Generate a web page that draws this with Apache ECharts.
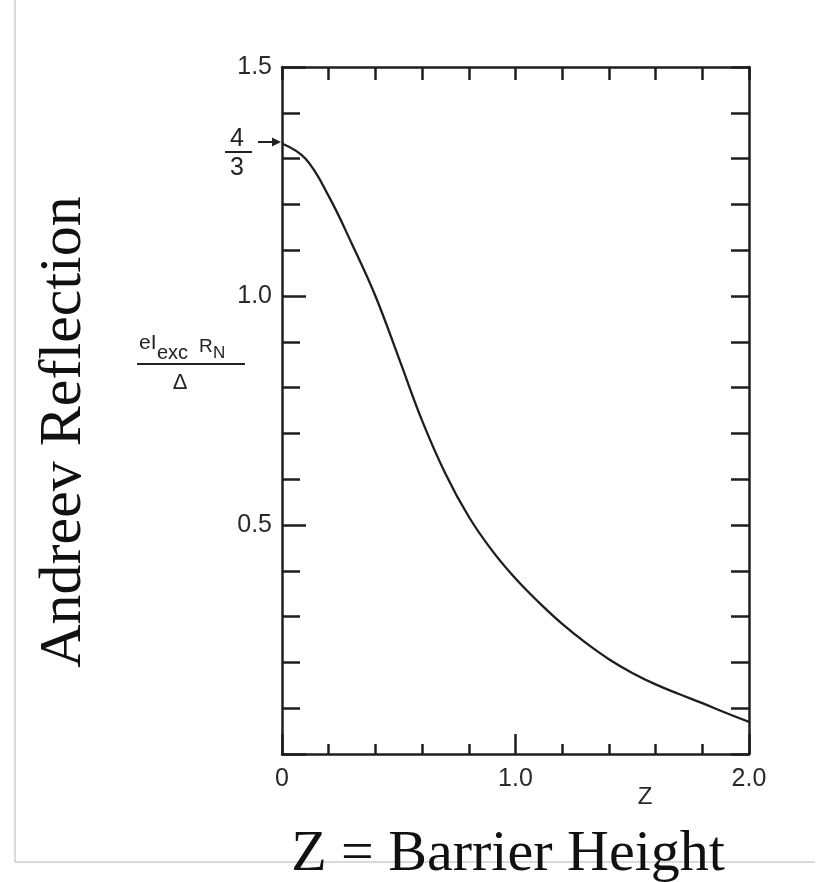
<!DOCTYPE html>
<html><head><meta charset="utf-8">
<script src="https://cdn.jsdelivr.net/npm/echarts@6/dist/echarts.min.js"></script>
<style>html,body{margin:0;padding:0;background:#fff}#c{width:819px;height:882px}</style>
</head><body><div id="c"></div>
<script>
// Barrier strength Z and normalized excess current eI_exc R_N / Δ
const zValues = [0, 0.1, 0.2, 0.3, 0.4, 0.5, 0.6, 0.7, 0.8, 0.9, 1.0, 1.1, 1.2, 1.3, 1.4, 1.5, 1.6, 1.7, 1.8, 1.9, 2.0];
const excessCurrent = [1.333, 1.300, 1.218, 1.113, 1.000, 0.865, 0.728, 0.612, 0.518, 0.444, 0.383, 0.331, 0.284, 0.243, 0.207, 0.177, 0.152, 0.131, 0.111, 0.090, 0.070];
const yTickLabels = ['0.5', '1.0', '1.5'];
const xTickLabels = ['0', '1.0', '2.0'];

const chart = echarts.init(document.getElementById('c'));
const black = '#1e1e1e';
const tickFont = 'Liberation Sans, Arial, sans-serif';
const serif = 'Liberation Serif, Times New Roman, serif';

const seriesData = zValues.map((z, i) => [z, excessCurrent[i]]);

chart.setOption({
  backgroundColor: '#fff',
  animation: false,
  grid: { left: 282, right: 70, top: 67, bottom: 128, containLabel: false },
  xAxis: [
    {
      type: 'value', min: 0, max: 2, interval: 1, position: 'bottom',
      axisLine: { show: true, onZero: false, lineStyle: { color: black, width: 2.5 } },
      axisTick: { show: true, inside: true, length: 20, lineStyle: { color: black, width: 2.5 } },
      minorTick: { show: true, splitNumber: 5, length: 10, lineStyle: { color: black, width: 2.5 } },
      splitLine: { show: false }, minorSplitLine: { show: false },
      axisLabel: {
        margin: 13, fontFamily: tickFont, fontSize: 25, color: '#2a2a2a',
        formatter: v => { const i = Math.round(v); return xTickLabels[i] !== undefined ? xTickLabels[i] : ''; }
      }
    },
    {
      type: 'value', min: 0, max: 2, interval: 0.2, position: 'top',
      axisLine: { show: true, onZero: false, lineStyle: { color: black, width: 2.5 } },
      axisTick: { show: true, inside: true, length: 13, lineStyle: { color: black, width: 2.5 } },
      splitLine: { show: false }, axisLabel: { show: false }
    }
  ],
  yAxis: [
    {
      type: 'value', min: 0, max: 1.5, interval: 0.5, position: 'left',
      axisLine: { show: true, onZero: false, lineStyle: { color: black, width: 2.5 } },
      axisTick: { show: true, inside: true, length: 24, lineStyle: { color: black, width: 2.5 } },
      minorTick: { show: true, splitNumber: 5, length: 18, lineStyle: { color: black, width: 2.5 } },
      splitLine: { show: false }, minorSplitLine: { show: false },
      axisLabel: {
        margin: 10, fontFamily: tickFont, fontSize: 25, color: '#2a2a2a',
        formatter: v => { const i = Math.round(v / 0.5) - 1; return i >= 0 && yTickLabels[i] ? yTickLabels[i] : ''; }
      }
    },
    {
      type: 'value', min: 0, max: 1.5, interval: 0.1, position: 'right',
      axisLine: { show: true, onZero: false, lineStyle: { color: black, width: 2.5 } },
      axisTick: { show: true, inside: true, length: 18, lineStyle: { color: black, width: 2.5 } },
      splitLine: { show: false }, axisLabel: { show: false }
    }
  ],
  series: [{
    type: 'line', xAxisIndex: 0, yAxisIndex: 0,
    data: seriesData, smooth: 0.4, showSymbol: false, symbol: 'none',
    lineStyle: { color: black, width: 2.3 }
  }],
  graphic: [
    // decorative slide borders
    { type: 'line', shape: { x1: 15, y1: 0, x2: 15, y2: 862 }, style: { stroke: '#b4b4b4', lineWidth: 1 }, z: 0 },
    { type: 'line', shape: { x1: 15, y1: 862, x2: 815, y2: 862 }, style: { stroke: '#b4b4b4', lineWidth: 1 }, z: 0 },
    // big titles
    { type: 'text', position: [508, 884], style: { text: 'Z = Barrier Height', font: '58px ' + serif, fill: '#111', textAlign: 'center', textVerticalAlign: 'bottom' }, z: 10 },
    { type: 'text', rotation: Math.PI / 2, position: [64, 432], style: { text: 'Andreev Reflection', font: '60px ' + serif, fill: '#111', textAlign: 'center', textVerticalAlign: 'middle' }, z: 10 },
    // axis name Z
    { type: 'text', position: [645, 797], style: { text: 'Z', font: '24px ' + tickFont, fill: '#2a2a2a', textAlign: 'center', textVerticalAlign: 'middle' } },
    // 4/3 annotation with arrow
    { type: 'text', position: [237, 139], style: { text: '4', font: '25px ' + tickFont, fill: '#222', textAlign: 'center', textVerticalAlign: 'middle' } },
    { type: 'line', shape: { x1: 225, y1: 152, x2: 252, y2: 152 }, style: { stroke: '#222', lineWidth: 2 } },
    { type: 'text', position: [237, 168], style: { text: '3', font: '25px ' + tickFont, fill: '#222', textAlign: 'center', textVerticalAlign: 'middle' } },
    { type: 'line', shape: { x1: 258, y1: 142, x2: 274, y2: 142 }, style: { stroke: '#222', lineWidth: 2 } },
    { type: 'polygon', shape: { points: [[281, 142], [272, 137.5], [272, 146.5]] }, style: { fill: '#222' } },
    // y-axis quantity label eI_exc R_N / Δ
    { type: 'text', position: [139, 354], style: { text: 'eI', font: '21px ' + tickFont, fill: '#222', textAlign: 'left', textVerticalAlign: 'bottom' } },
    { type: 'text', position: [157, 363], style: { text: 'exc', font: '20px ' + tickFont, fill: '#222', textAlign: 'left', textVerticalAlign: 'bottom' } },
    { type: 'text', position: [199, 356], style: { text: 'R', font: '19px ' + tickFont, fill: '#222', textAlign: 'left', textVerticalAlign: 'bottom' } },
    { type: 'text', position: [213, 362], style: { text: 'N', font: '17px ' + tickFont, fill: '#222', textAlign: 'left', textVerticalAlign: 'bottom' } },
    { type: 'line', shape: { x1: 137, y1: 364, x2: 245, y2: 364 }, style: { stroke: '#222', lineWidth: 2 } },
    { type: 'text', position: [180, 383], style: { text: 'Δ', font: '22px ' + tickFont, fill: '#222', textAlign: 'center', textVerticalAlign: 'middle' } }
  ]
});
</script>
</body></html>
